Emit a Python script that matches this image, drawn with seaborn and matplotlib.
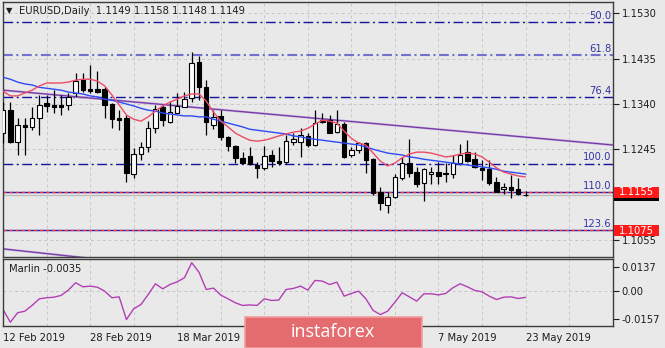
import numpy as np
import pandas as pd
import matplotlib
matplotlib.use('Agg')
import matplotlib.pyplot as plt
import matplotlib.transforms as mtransforms
from matplotlib.patches import Rectangle
import seaborn as sns

# ---------------- data ----------------
dates = pd.bdate_range('2019-02-12', '2019-05-23')

opens = [1.1279, 1.1327, 1.1260, 1.1296, 1.1292, 1.1310, 1.1342, 1.1338, 1.1338, 1.1338,
         1.1363, 1.1390, 1.1371, 1.1371, 1.1371, 1.1340, 1.1310, 1.1310, 1.1193, 1.1235,
         1.1250, 1.1289, 1.1334, 1.1302, 1.1321, 1.1334, 1.1352, 1.1428, 1.1375, 1.1296,
         1.1315, 1.1271, 1.1252, 1.1227, 1.1231, 1.1212, 1.1206, 1.1233, 1.1220, 1.1218,
         1.1260, 1.1260, 1.1273, 1.1254, 1.1306, 1.1306, 1.1281, 1.1298, 1.1233, 1.1243,
         1.1258, 1.1224, 1.1155, 1.1128, 1.1145, 1.1185, 1.1216, 1.1197, 1.1174, 1.1193,
         1.1197, 1.1195, 1.1193, 1.1216, 1.1239, 1.1224, 1.1206, 1.1204, 1.1176, 1.1162,
         1.1166, 1.1162, 1.1149]
highs = [1.1344, 1.1344, 1.1310, 1.1310, 1.1334, 1.1359, 1.1359, 1.1369, 1.1359, 1.1363,
         1.1405, 1.1405, 1.1422, 1.1409, 1.1375, 1.1342, 1.1327, 1.1317, 1.1248, 1.1260,
         1.1304, 1.1338, 1.1338, 1.1344, 1.1363, 1.1365, 1.1449, 1.1440, 1.1390, 1.1327,
         1.1327, 1.1273, 1.1254, 1.1239, 1.1250, 1.1218, 1.1252, 1.1243, 1.1250, 1.1275,
         1.1279, 1.1289, 1.1279, 1.1327, 1.1321, 1.1317, 1.1327, 1.1302, 1.1250, 1.1260,
         1.1260, 1.1226, 1.1166, 1.1155, 1.1193, 1.1229, 1.1266, 1.1208, 1.1206, 1.1208,
         1.1218, 1.1216, 1.1233, 1.1256, 1.1264, 1.1239, 1.1222, 1.1222, 1.1187, 1.1174,
         1.1191, 1.1185, 1.1158]
lows = [1.1258, 1.1258, 1.1233, 1.1233, 1.1285, 1.1275, 1.1323, 1.1321, 1.1317, 1.1327,
        1.1355, 1.1365, 1.1363, 1.1363, 1.1310, 1.1289, 1.1285, 1.1176, 1.1185, 1.1222,
        1.1239, 1.1279, 1.1294, 1.1300, 1.1321, 1.1333, 1.1344, 1.1348, 1.1275, 1.1287,
        1.1264, 1.1241, 1.1216, 1.1214, 1.1212, 1.1185, 1.1201, 1.1208, 1.1212, 1.1214,
        1.1254, 1.1229, 1.1250, 1.1252, 1.1300, 1.1279, 1.1279, 1.1227, 1.1229, 1.1237,
        1.1195, 1.1149, 1.1117, 1.1111, 1.1143, 1.1180, 1.1187, 1.1166, 1.1136, 1.1172,
        1.1172, 1.1176, 1.1185, 1.1212, 1.1218, 1.1206, 1.1180, 1.1170, 1.1155, 1.1151,
        1.1143, 1.1149, 1.1148]
closes = [1.1327, 1.1260, 1.1296, 1.1292, 1.1310, 1.1338, 1.1336, 1.1334, 1.1334, 1.1355,
          1.1388, 1.1369, 1.1367, 1.1365, 1.1338, 1.1308, 1.1306, 1.1195, 1.1235, 1.1250,
          1.1289, 1.1329, 1.1306, 1.1323, 1.1336, 1.1350, 1.1426, 1.1375, 1.1302, 1.1312,
          1.1271, 1.1252, 1.1227, 1.1216, 1.1214, 1.1206, 1.1231, 1.1220, 1.1216, 1.1262,
          1.1266, 1.1275, 1.1254, 1.1300, 1.1302, 1.1279, 1.1298, 1.1229, 1.1243, 1.1258,
          1.1222, 1.1153, 1.1132, 1.1145, 1.1187, 1.1216, 1.1195, 1.1172, 1.1204, 1.1197,
          1.1189, 1.1193, 1.1216, 1.1233, 1.1220, 1.1208, 1.1201, 1.1174, 1.1155, 1.1166,
          1.1160, 1.1151, 1.1149]

ma_red = [1.1367, 1.1357, 1.1357, 1.1363, 1.1369, 1.1378, 1.1384, 1.1384, 1.1384, 1.1386,
          1.1390, 1.1392, 1.1392, 1.1388, 1.1378, 1.1359, 1.1338, 1.1317, 1.1308, 1.1304,
          1.1313, 1.1325, 1.1336, 1.1344, 1.1350, 1.1357, 1.1361, 1.1361, 1.1346, 1.1323,
          1.1304, 1.1292, 1.1279, 1.1271, 1.1264, 1.1262, 1.1264, 1.1268, 1.1273, 1.1277,
          1.1281, 1.1283, 1.1289, 1.1298, 1.1306, 1.1304, 1.1300, 1.1283, 1.1268, 1.1258,
          1.1254, 1.1237, 1.1220, 1.1210, 1.1216, 1.1227, 1.1235, 1.1239, 1.1239, 1.1237,
          1.1233, 1.1229, 1.1231, 1.1235, 1.1237, 1.1235, 1.1229, 1.1218, 1.1206, 1.1197,
          1.1193, 1.1189, 1.1187]
ma_blue = [1.1396, 1.1392, 1.1386, 1.1382, 1.1380, 1.1375, 1.1373, 1.1371, 1.1369, 1.1365,
           1.1363, 1.1361, 1.1357, 1.1355, 1.1350, 1.1348, 1.1344, 1.1340, 1.1336, 1.1331,
           1.1327, 1.1325, 1.1321, 1.1319, 1.1317, 1.1315, 1.1315, 1.1313, 1.1313, 1.1308,
           1.1304, 1.1300, 1.1296, 1.1292, 1.1287, 1.1285, 1.1283, 1.1281, 1.1279, 1.1277,
           1.1273, 1.1271, 1.1268, 1.1266, 1.1264, 1.1262, 1.1260, 1.1258, 1.1256, 1.1254,
           1.1250, 1.1245, 1.1241, 1.1237, 1.1235, 1.1233, 1.1229, 1.1227, 1.1224, 1.1222,
           1.1220, 1.1218, 1.1216, 1.1214, 1.1212, 1.1210, 1.1208, 1.1206, 1.1203, 1.1199,
           1.1197, 1.1195, 1.1193]
marlin = [-0.0103, -0.0174, -0.0121, -0.0112, -0.0080, -0.0043, -0.0037, -0.0034, -0.0024, 0.0006,
          0.0047, 0.0024, 0.0028, 0.0022, 0.0000, -0.0037, -0.0032, -0.0159, -0.0099, -0.0075,
          -0.0019, 0.0041, 0.0013, 0.0037, 0.0052, 0.0075, 0.0159, 0.0106, 0.0009, 0.0017,
          -0.0022, -0.0043, -0.0065, -0.0080, -0.0077, -0.0080, -0.0043, -0.0052, -0.0050, 0.0009,
          0.0015, 0.0028, 0.0006, 0.0060, 0.0056, 0.0037, 0.0050, -0.0028, -0.0013, 0.0000,
          -0.0043, -0.0108, -0.0131, -0.0112, -0.0062, -0.0009, -0.0032, -0.0056, -0.0015, -0.0015,
          -0.0021, -0.0013, 0.0019, 0.0041, 0.0024, 0.0004, -0.0004, -0.0028, -0.0047, -0.0034,
          -0.0032, -0.0041, -0.0035]

fib_levels = ['50.0', '61.8', '76.4', '100.0', '110.0', '123.6']
fib_prices = [1.1512, 1.1442, 1.1355, 1.1215, 1.1156, 1.1075]
price_ticks = [1.1530, 1.1435, 1.1340, 1.1245, 1.1150, 1.1055]
marlin_ticks = [0.0137, 0.0, -0.0157]
marlin_tick_labels = ['0.0137', '0.00', '-0.0157']
# the 3 Apr and 19 Apr labels are hidden under the watermark in the reference
date_ticks = ['2019-02-12', '2019-02-28', '2019-03-18', '2019-04-03',
              '2019-04-19', '2019-05-07', '2019-05-23']
date_labels = ['12 Feb 2019', '28 Feb 2019', '18 Mar 2019', '',
               '', '7 May 2019', '23 May 2019']
trend_main_idx = [0, 84]
trend_main_price = [1.1369, 1.1254]
trend_low_idx = [0, 20]
trend_low_price = [1.1036, 1.1003]
alert_prices = [1.1155, 1.1075]

# ---------------- style ----------------
sns.set_style('white')
plt.rcParams['font.family'] = ['DejaVu Sans']
BG = '#E9E9E9'
GRID = '#C6C6C6'
FS = 7.2

W, H = 665, 348
fig = plt.figure(figsize=(W / 100, H / 100), dpi=100, facecolor=BG)

def fx(px):
    return px / W

def fy(py):
    return 1 - py / H

L, R = 2.7, 613.3
ax = fig.add_axes([fx(L), fy(256.7), fx(R) - fx(L), fy(2) - fy(256.7)])
ax2 = fig.add_axes([fx(L), fy(326), fx(R) - fx(L), fy(259.3) - fy(326)])
for a in (ax, ax2):
    a.set_facecolor(BG)
    for s in a.spines.values():
        s.set_color('#3C3C3C')
        s.set_linewidth(1.0)
    a.set_xlim(-0.05, 84.1)

ax.set_ylim(1.10196, 1.1554)
ax2.set_ylim(-0.0195, 0.0178)

idx = np.arange(len(opens))
o = np.array(opens); h = np.array(highs); lo = np.array(lows); c = np.array(closes)

# grid
for g in range(6, 84, 6):
    ax.axvline(g, color=GRID, lw=0.7, ls=(0, (3, 3)), zorder=0)
    ax2.axvline(g, color=GRID, lw=0.7, ls=(0, (3, 3)), zorder=0)
for t in price_ticks:
    ax.axhline(t, color=GRID, lw=0.7, ls=(0, (3, 3)), zorder=0)
ax2.axhline(0, color=GRID, lw=0.7, ls=(0, (3, 3)), zorder=0)

# bid line
ax.axhline(closes[-1], color='#BEBEBE', lw=1.0, zorder=1)

# fibonacci lines
dashdot = (0, (7, 2.5, 1.5, 2.5))
for lev, p in zip(fib_levels, fib_prices):
    if lev in ('110.0', '123.6'):
        ax.axhline(p, color='#1C1CB4', lw=1.0, zorder=2)
        ax.axhline(p, color='#FF3A3A', lw=1.0, ls=(0, (2.2, 2.2)), zorder=2)
    elif lev == '61.8':
        ax.axhline(p, color='#7272CE', lw=1.5, ls=(0, (4.7, 1.7, 1, 1.7)), zorder=2)
    else:
        ax.axhline(p, color='#1414A0', lw=1.0, ls=dashdot, zorder=2)
    ax.annotate(lev, xy=(1, p), xycoords=mtransforms.blended_transform_factory(ax.transAxes, ax.transData),
                xytext=(-1.5, 0.8), textcoords='offset points', ha='right', va='bottom',
                fontsize=FS, color='#3434A4', zorder=3)

# trend lines
for ti, tp in ((trend_main_idx, trend_main_price), (trend_low_idx, trend_low_price)):
    ax.plot(ti, tp, color='#B294D4', lw=1.5, zorder=2)
    ax.plot(ti, tp, color='#7130A0', lw=0.7, zorder=2)

# candles
ax.vlines(idx, lo, h, color='black', lw=0.9, zorder=4)
up = c >= o
ax.bar(idx, np.maximum(np.abs(c - o), 0.00004), bottom=np.minimum(o, c), width=0.62,
       color=np.where(up, 'white', 'black'), edgecolor='black', linewidth=0.8, zorder=5)

# moving averages
sns.lineplot(x=idx, y=ma_blue, ax=ax, color='#2E4BF5', lw=1.0, zorder=6)
sns.lineplot(x=idx, y=ma_red, ax=ax, color='#EC4C66', lw=1.0, zorder=6)

# axes ticks main (the 1.1150 label sits under the price boxes in the reference)
ax.set_xticks([])
ax.yaxis.tick_right()
ax.set_yticks(price_ticks)
ax.set_yticklabels(['' if abs(t - 1.1150) < 1e-6 else f'{t:.4f}' for t in price_ticks])
ax.tick_params(axis='y', length=4, width=0.8, pad=2, labelsize=FS, colors='#1E1E1E', direction='out')
ax.set_xlabel(''); ax.set_ylabel('')

# price boxes
pp = (1.1554 - 1.10196) / 254.7
axw = R - L
trans = mtransforms.blended_transform_factory(ax.transAxes, ax.transData)

def price_box(price, fc, text=None, z=20):
    x0 = 1 + 1.0 / axw
    ax.add_patch(Rectangle((x0, price - 5.5 * pp), 45 / axw, 11 * pp, transform=trans,
                           facecolor=fc, edgecolor='none', clip_on=False, zorder=z))
    if text:
        ax.text(x0 + 22.5 / axw, price - 0.3 * pp, text, transform=trans, ha='center', va='center',
                color='white', fontsize=FS, clip_on=False, zorder=z + 1)

price_box(closes[-1], '#000000', None, z=18)
for p in alert_prices:
    price_box(p, '#FF1A1A', f'{p:.4f}', z=20)

# marlin panel
sns.lineplot(x=idx, y=marlin, ax=ax2, color='#B23FB4', lw=1.0)
ax2.yaxis.tick_right()
ax2.set_yticks(marlin_ticks)
ax2.set_yticklabels(marlin_tick_labels)
ax2.tick_params(axis='y', length=4, width=0.8, pad=2, labelsize=FS, colors='#1E1E1E', direction='out')
tick_pos = [dates.get_loc(pd.Timestamp(d)) for d in date_ticks]
ax2.set_xticks(tick_pos)
ax2.set_xticklabels(date_labels, ha='left')
ax2.tick_params(axis='x', length=3, width=0.8, pad=2, labelsize=FS, colors='#1E1E1E', direction='out')
ax2.set_xlabel(''); ax2.set_ylabel('')
ax2.text(6 / axw, 0.86, f'Marlin {marlin[-1]:.4f}', transform=ax2.transAxes, fontsize=FS,
         color='#1E1E1E', ha='left', va='center')

# title
fig.text(fx(6), fy(11), '\u25BC', fontsize=6, color='#1E1E1E', ha='left', va='center')
fig.text(fx(19), fy(11.5), f'EURUSD,Daily  {opens[-1]:.4f} {highs[-1]:.4f} {lows[-1]:.4f} {closes[-1]:.4f}',
         fontsize=FS, color='#1E1E1E', ha='left', va='center')

# watermark
fig.patches.append(Rectangle((fx(245), 0), fx(422) - fx(245), fy(316.7) - fy(348),
                             transform=fig.transFigure, facecolor='#E46C6E', edgecolor='#F19D9D',
                             linewidth=1.2, zorder=10))
fig.text(fx(333), fy(332), 'instaforex', fontsize=13, color='white', family=['Open Sans', 'DejaVu Sans'],
         ha='center', va='center', zorder=11)

fig.savefig('out.png', dpi=100, facecolor=BG)
